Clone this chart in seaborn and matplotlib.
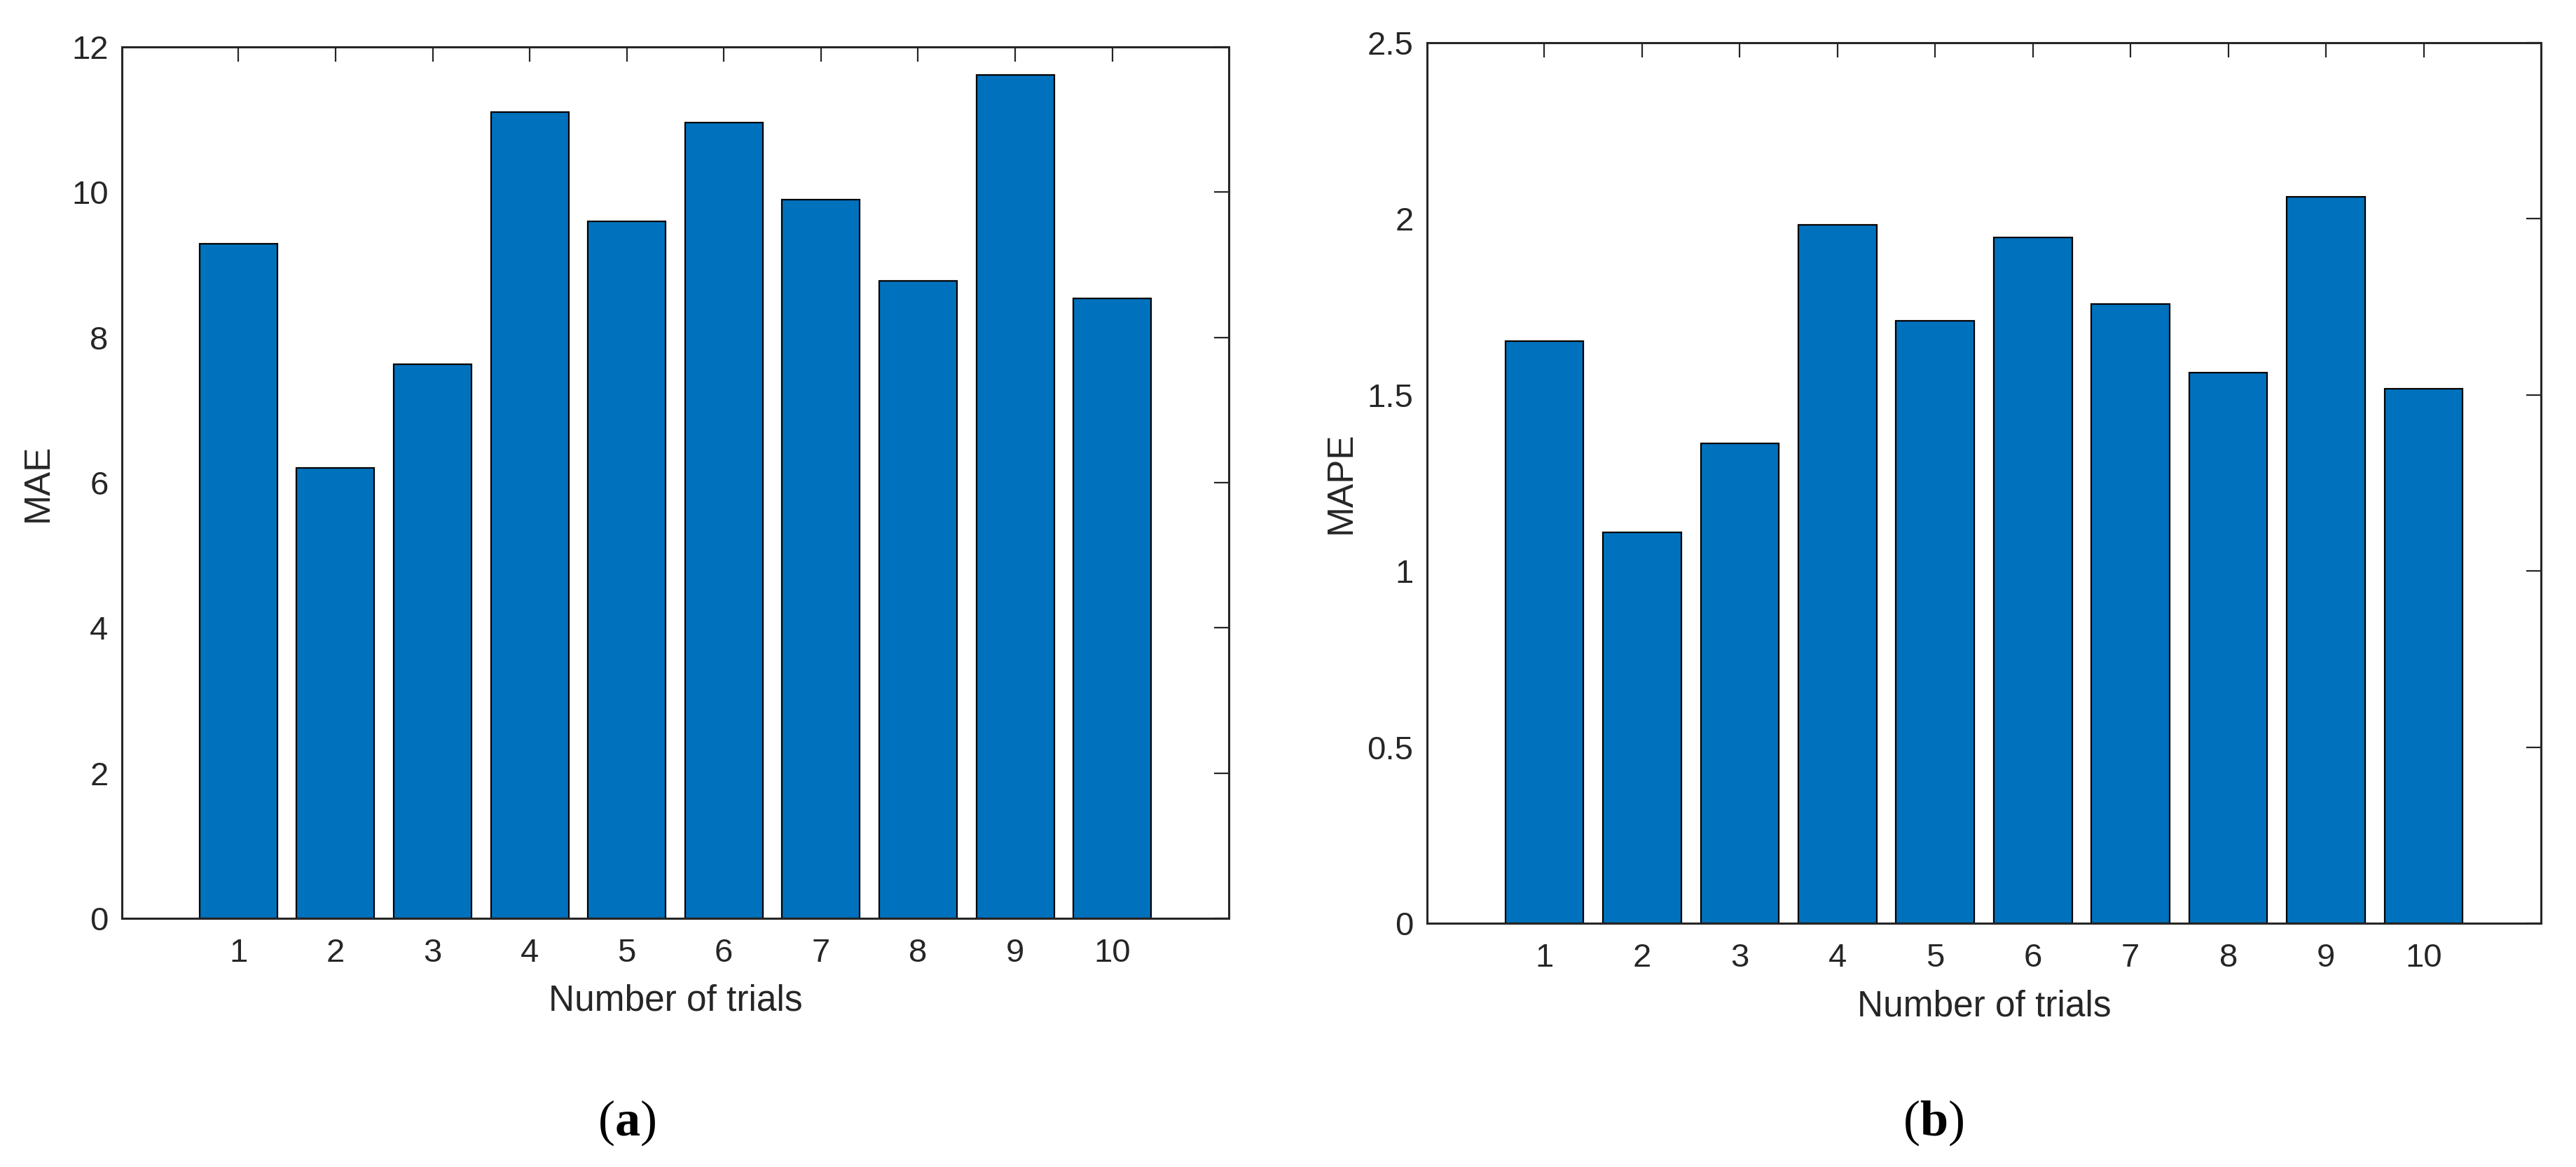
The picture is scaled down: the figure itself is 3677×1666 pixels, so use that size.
import matplotlib
matplotlib.use('Agg')
import matplotlib.pyplot as plt
import seaborn as sns
import pandas as pd

# Valeurs
trials = ['1', '2', '3', '4', '5', '6', '7', '8', '9', '10']
mae = [9.29, 6.20, 7.63, 11.10, 9.60, 10.96, 9.90, 8.78, 11.61, 8.54]
mape = [1.653, 1.109, 1.363, 1.982, 1.711, 1.947, 1.758, 1.564, 2.062, 1.518]

mae_ticks = [0, 2, 4, 6, 8, 10, 12]
mae_labels = ['0', '2', '4', '6', '8', '10', '12']
mape_ticks = [0, 0.5, 1, 1.5, 2, 2.5]
mape_labels = ['0', '0.5', '1', '1.5', '2', '2.5']

sns.set_style('white')
plt.rcParams['font.family'] = ['Liberation Sans', 'DejaVu Sans']
plt.rcParams['mathtext.fontset'] = 'custom'
plt.rcParams['mathtext.rm'] = 'Liberation Serif'
plt.rcParams['mathtext.bf'] = 'Liberation Serif:bold'

df = pd.DataFrame({'trial': trials, 'MAE': mae, 'MAPE': mape})

W, H = 3677, 1666
fig = plt.figure(figsize=(W / 100, H / 100), dpi=100)
ax1 = fig.add_axes([174 / W, 1 - 1311 / H, 1580 / W, 1244 / H])
ax2 = fig.add_axes([2037 / W, 1 - 1318 / H, 1590 / W, 1257 / H])

txt = '#262626'
panels = [
    (ax1, 'MAE', mae_ticks, mae_labels, -0.060),
    (ax2, 'MAPE', mape_ticks, mape_labels, -0.062),
]
for ax, col, ticks, labels, ylab_x in panels:
    sns.barplot(data=df, x='trial', y=col, color='#0072BD', saturation=1,
                edgecolor='black', linewidth=1.6, width=0.8, ax=ax)
    ax.set_xlim(-1.2, 10.2)
    ax.set_ylim(ticks[0], ticks[-1])
    ax.set_yticks(ticks)
    ax.set_yticklabels(labels)
    ax.set_xlabel('Number of trials', fontsize=37, color=txt)
    ax.set_ylabel(col, fontsize=37, color=txt)
    ax.xaxis.set_label_coords(0.5, -0.075)
    ax.yaxis.set_label_coords(ylab_x, 0.5)
    ax.tick_params(axis='both', direction='in', length=15, width=1.6,
                   top=True, right=True, labelsize=34, colors=txt)
    ax.tick_params(axis='x', pad=20)
    ax.tick_params(axis='y', pad=14)
    for s in ax.spines.values():
        s.set_linewidth(2.2)
        s.set_color(txt)
        s.set_visible(True)

fig.text(895 / W, 1 - 1603 / H, r'$\mathrm{(}\mathbf{a}\mathrm{)}$',
         fontsize=52, ha='center', va='center', color='black')
fig.text(2760 / W, 1 - 1603 / H, r'$\mathrm{(}\mathbf{b}\mathrm{)}$',
         fontsize=52, ha='center', va='center', color='black')

fig.savefig('out.png', dpi=100, facecolor='white')
